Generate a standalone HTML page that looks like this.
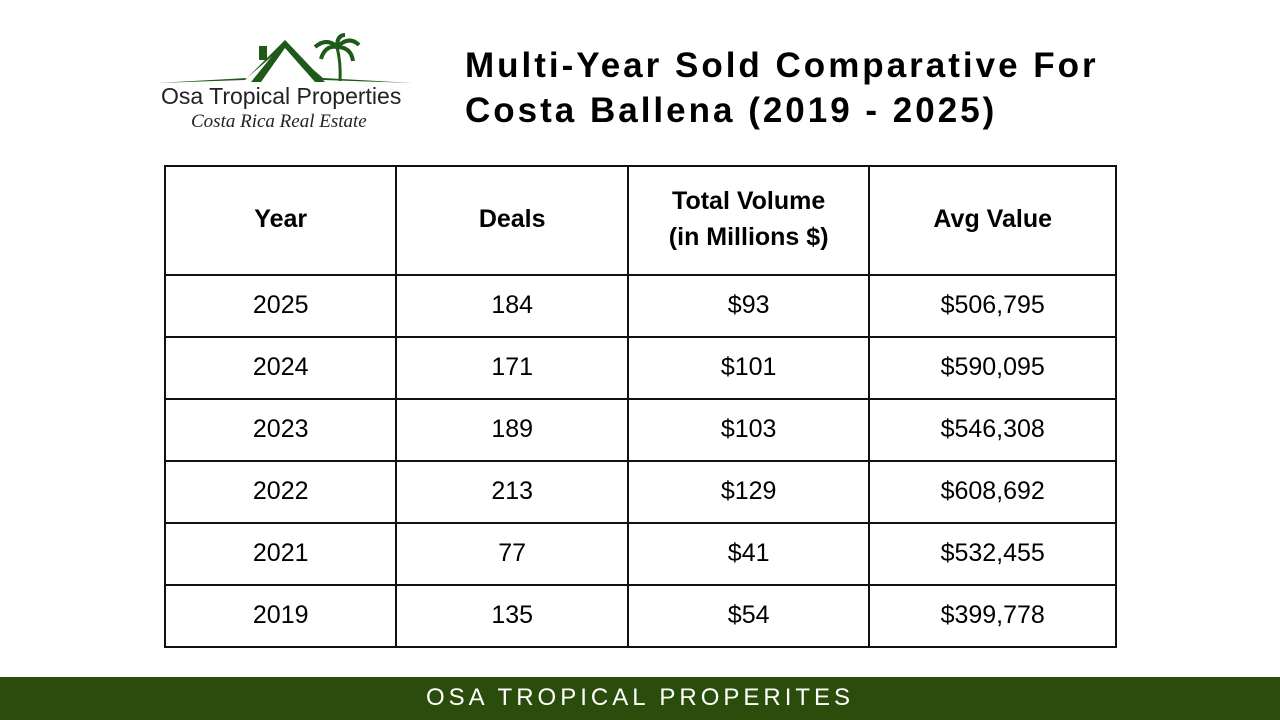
<!DOCTYPE html>
<html><head><meta charset="utf-8"><style>
*{margin:0;padding:0;box-sizing:border-box}
body{width:1280px;height:720px;background:#fff;position:relative;overflow:hidden;font-family:"Liberation Sans",sans-serif;color:#000}
#title{position:absolute;left:465px;top:43px;font-size:35px;font-weight:bold;line-height:45px;letter-spacing:3px;white-space:nowrap}
#tbl{position:absolute;left:164px;top:165px;width:953px;height:483px;border-collapse:collapse}
#tbl td,#tbl th{border:2px solid #111;text-align:center;font-size:25px}
#tbl th{font-weight:bold;height:109px;line-height:36px;padding-bottom:4px}
#tbl td{height:62px;font-weight:normal;padding-bottom:2px}
#footer{position:absolute;left:0;top:677px;width:1280px;height:43px;background:#2b4d0b;color:#fff;text-align:center;font-size:24px;line-height:41px;letter-spacing:4px}
</style></head><body>
<div style="position:absolute;left:155px;top:33px;width:260px;height:105px">
<svg width="260" height="50" style="position:absolute;left:0;top:0">
<path d="M2 50 L90 47 L130 7 L168 47 L258 50 L168 45 L130 12 L92 45 Z" fill="#1f5a1a"/>
<polygon points="96,49 130,7 170,49 160,49 130,15 106,49" fill="#1f5a1a"/>
<rect x="104" y="13" width="8" height="14" fill="#1f5a1a"/>
<path d="M185 48 Q186 30 182 14" stroke="#1f5a1a" stroke-width="3" fill="none"/>
<path d="M182 14 Q172 4 160 14 M182 14 Q194 2 204 12 M182 14 Q170 12 166 26 M182 14 Q196 14 198 28 M182 14 Q182 2 190 2" stroke="#1f5a1a" stroke-width="4" fill="none"/>
</svg>
<div style="position:absolute;left:6px;top:50px;font-size:23px;color:#222;white-space:nowrap">Osa Tropical Properties</div>
<div style="position:absolute;left:36px;top:78px;font-size:19px;font-style:italic;font-family:'Liberation Serif',serif;color:#222;white-space:nowrap">Costa Rica Real Estate</div>
</div>
<div id="title">Multi-Year Sold Comparative For<br>Costa Ballena (2019 - 2025)</div>
<table id="tbl">
<colgroup><col style="width:232px"><col style="width:232px"><col style="width:242px"><col style="width:247px"></colgroup>
<thead><tr>
<th>Year</th>
<th>Deals</th>
<th>Total Volume<br>(in Millions $)</th>
<th>Avg Value</th>
</tr></thead>
<tbody id="tb"></tbody>
</table>
<div id="footer">OSA TROPICAL PROPERITES</div>
<script>
const years=["2025","2024","2023","2022","2021","2019"];
const deals=[184,171,189,213,77,135];
const volumes=[93,101,103,129,41,54];
const avgValues=[506795,590095,546308,608692,532455,399778];
const tb=document.getElementById('tb');
years.forEach((y,i)=>{
  const tr=document.createElement('tr');
  
  
  const vals=[y,String(deals[i]),'$'+volumes[i],'$'+avgValues[i].toLocaleString('en-US')];
  const names=['year','deals','volume','avg-value'];
  vals.forEach((v,j)=>{
    const td=document.createElement('td');
    td.textContent=v;
    
    
    tr.appendChild(td);
  });
  tb.appendChild(tr);
});
</script>
</body></html>
